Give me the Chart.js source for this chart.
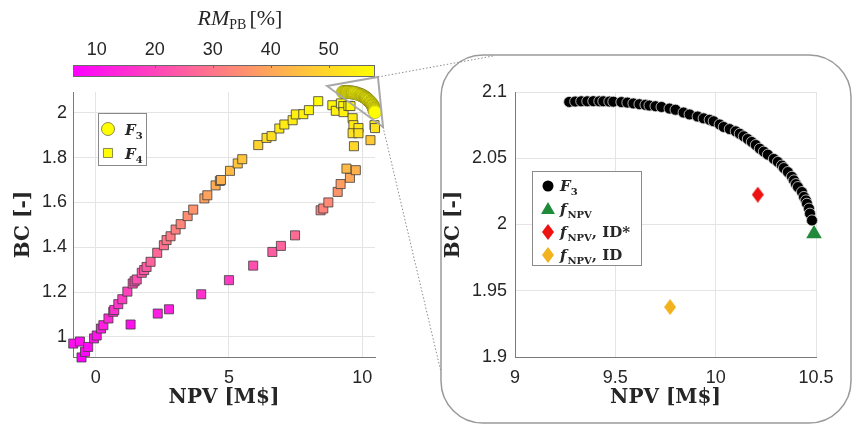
<!DOCTYPE html>
<html lang="pt-BR">
<head>
<meta charset="utf-8">
<title>BC x NPV - fronteiras F3 e F4</title>
<script src="https://cdn.jsdelivr.net/npm/chart.js@4.4.1/dist/chart.umd.min.js"></script>
<style>
  html, body { margin: 0; padding: 0; background: #fff; }
  #palco { position: relative; width: 852px; height: 425px; overflow: hidden; }
  #graficoGeral { position: absolute; left: 0; top: 0; }
  #graficoZoom { position: absolute; left: 430px; top: 0; }
  #camadaEnfeites { position: absolute; left: 0; top: 0; pointer-events: none; }
</style>
</head>
<body>
<div id="palco">
  <canvas id="graficoGeral" width="430" height="425"></canvas>
  <canvas id="graficoZoom" width="422" height="425"></canvas>
  <canvas id="camadaEnfeites" width="852" height="425"></canvas>
</div>
<script>
// =========================================================
// 1. DADOS
// =========================================================
// Frente F3 (circulos): NPV [M$] e BC [-]
const npvF3 = [9.27, 9.30, 9.33, 9.36, 9.39, 9.42, 9.44, 9.47, 9.49, 9.53, 9.56, 9.59, 9.62, 9.65, 9.67,
               9.70, 9.73, 9.77, 9.80, 9.84, 9.87, 9.91, 9.94, 9.97, 9.99, 10.02, 10.04, 10.07, 10.10, 10.12,
               10.14, 10.16, 10.18, 10.20, 10.22, 10.24, 10.26, 10.29, 10.31, 10.33, 10.34, 10.36, 10.38, 10.39,
               10.40, 10.41, 10.43, 10.44, 10.45, 10.455, 10.465, 10.47, 10.48];
const bcF3  = [2.0925, 2.0928, 2.0930, 2.0930, 2.0931, 2.0930, 2.0930, 2.0928, 2.0927, 2.0924, 2.0920, 2.0914, 2.0908, 2.0903, 2.0898,
               2.0893, 2.0887, 2.0875, 2.0866, 2.0845, 2.0831, 2.0815, 2.0801, 2.0790, 2.0779, 2.0755, 2.0736, 2.0720, 2.0703, 2.0685,
               2.0666, 2.0645, 2.0623, 2.0600, 2.0572, 2.0550, 2.0527, 2.0495, 2.0472, 2.0445, 2.0426, 2.0396, 2.0360, 2.0333,
               2.0305, 2.0283, 2.0245, 2.0208, 2.0182, 2.0157, 2.0120, 2.0082, 2.0031];
const rmF3 = 57.5; // todos amarelos

// Conjunto F4 (quadrados): NPV, BC e RM_PB [%] (cor)
const npvF4 = [-0.84, -0.59, -0.53, -0.40, -0.28, -0.06, 0.04, 0.20, 0.29, 0.48, 0.66, 0.70, 0.85, 1.00, 1.19,
               1.39, 1.46, 1.54, 1.73, 1.82, 1.91, 2.06, 2.31, 2.56, 2.66, 2.81, 3.00, 3.19, 3.45, 3.66,
               4.08, 4.19, 4.50, 4.66, 4.70, 5.04, 5.33, 5.50, 6.10, 6.41, 6.60, 6.89, 7.08, 7.39, 7.51,
               7.79, 8.00, 8.35, 8.88, 9.01, 9.20, 9.29, 9.30, 9.48, 9.56, 9.64, 9.67, 9.64, 9.86, 9.86,
               10.46, 10.48, 10.31, 9.69,
               1.31, 2.33, 2.75, 3.96, 5.00, 5.91, 6.63, 6.95, 7.48, 8.44, 8.54, 8.73, 9.08, 9.19, 9.54, 9.41, 9.76];
const bcF4  = [0.970, 0.979, 0.908, 0.933, 0.955, 0.993, 1.006, 1.037, 1.052, 1.082, 1.112, 1.120, 1.146, 1.168, 1.202,
               1.238, 1.248, 1.256, 1.286, 1.298, 1.312, 1.335, 1.375, 1.409, 1.432, 1.449, 1.479, 1.503, 1.539, 1.568,
               1.618, 1.632, 1.676, 1.696, 1.700, 1.741, 1.774, 1.793, 1.856, 1.888, 1.896, 1.930, 1.948, 1.967, 1.993,
               1.994, 2.012, 2.052, 2.034, 2.009, 2.042, 2.030, 2.003, 2.031, 2.030, 1.976, 1.945, 1.909, 1.932, 1.909,
               1.945, 1.932, 1.878, 1.851,
               1.055, 1.104, 1.123, 1.190, 1.253, 1.318, 1.379, 1.406, 1.453, 1.565, 1.573, 1.600, 1.647, 1.682, 1.710, 1.751, 1.744];
const rmF4  = [9, 9, 6, 7, 8, 10, 10, 12, 12, 14, 15, 16, 17, 18, 19,
               21, 22, 22, 23, 24, 24, 26, 27, 29, 30, 31, 32, 33, 35, 36,
               39, 39, 41, 42, 42, 44, 46, 46, 49, 51, 51, 53, 54, 54, 55,
               55, 56, 57, 56, 55, 57, 56, 55, 56, 56, 54, 53, 52, 53, 52,
               53, 52, 47, 50,
               9, 12, 12, 16, 18, 22, 25, 26, 28, 32, 33, 34, 36, 38, 40, 44, 42];

// Solucoes destacadas no zoom
const npvOtimo = [10.49], bcOtimo = [1.993];     // f_NPV
const npvIdEst = [10.21], bcIdEst = [2.0225];    // f_NPV, ID*
const npvId    = [9.773], bcId    = [1.9377];    // f_NPV, ID

// Eixos e escala de cores
const limXGeral = [-0.85, 10.48], limYGeral = [0.91, 2.093];
const ticksXGeral = [0, 5, 10], ticksYGeral = [1, 1.2, 1.4, 1.6, 1.8, 2];
const limXZoom = [9, 10.5], limYZoom = [1.9, 2.1];
const ticksXZoom = [9, 9.5, 10, 10.5], ticksYZoom = [1.9, 1.95, 2, 2.05, 2.1];
const limCor = [5.9, 58], ticksCor = [10, 20, 30, 40, 50];

// Triangulo que marca a regiao ampliada (em coordenadas do grafico da esquerda)
const trianguloX = [8.68, 10.59, 10.78], trianguloY = [2.12, 2.16, 1.937];


// =========================================================
// 2. AJUDANTES
// =========================================================
const fonteTicks = { family: '"Liberation Sans", Arial, sans-serif', size: 18 };
const fonteTitulo = { family: '"DejaVu Serif", serif', size: 20, weight: 'bold' };
const corTexto = '#262626';
const corGrade = '#e4e4e4';
const corEixo = '#7a7a7a';

// Mapa "spring" do MATLAB: magenta -> amarelo
function corPorRM(rm) {
    let t = (rm - limCor[0]) / (limCor[1] - limCor[0]);
    t = Math.max(0, Math.min(1, t));
    return `rgb(255, ${Math.round(255 * t)}, ${Math.round(255 * (1 - t))})`;
}

function pontos(xs, ys) {
    return xs.map((x, i) => ({ x: x, y: ys[i] }));
}

function formatar(v) {
    return String(Math.round(v * 100) / 100);
}

// Losango alto (marcador 'd' do MATLAB) como imagem para o pointStyle
function criarLosango(cor, largura, altura) {
    const c = document.createElement('canvas');
    c.width = largura; c.height = altura;
    const ctx = c.getContext('2d');
    ctx.fillStyle = cor;
    ctx.beginPath();
    ctx.moveTo(largura / 2, 0);
    ctx.lineTo(largura, altura / 2);
    ctx.lineTo(largura / 2, altura);
    ctx.lineTo(0, altura / 2);
    ctx.closePath();
    ctx.fill();
    return c;
}
const losangoVermelho = criarLosango('#ee1111', 12, 16);
const losangoLaranja = criarLosango('#f2b21e', 12, 16);

// Escreve texto com partes (subscrito etc.)
function escreverPartes(ctx, partes, x, y) {
    ctx.textBaseline = 'alphabetic';
    ctx.textAlign = 'left';
    partes.forEach(p => {
        ctx.font = p.f;
        ctx.fillStyle = corTexto;
        ctx.fillText(p.t, x, y + (p.dy || 0));
        x += ctx.measureText(p.t).width + (p.gap || 0);
    });
    return x;
}

function larguraPartes(ctx, partes) {
    let w = 0;
    partes.forEach(p => { ctx.font = p.f; w += ctx.measureText(p.t).width + (p.gap || 0); });
    return w;
}

function eixoLinear(lim, ticks, extra) {
    return Object.assign({
        type: 'linear',
        min: lim[0],
        max: lim[1],
        afterBuildTicks: s => { s.ticks = ticks.map(v => ({ value: v })); },
        grid: { color: corGrade, lineWidth: 1, drawTicks: false },
        border: { color: corEixo, width: 1 },
        ticks: { font: fonteTicks, color: corTexto, callback: v => formatar(v) }
    }, extra);
}

const serifBI = '"DejaVu Serif", serif';
const rotuloF3 = [{ t: 'F', f: `italic bold 15px ${serifBI}`, gap: 0 }, { t: '3', f: `bold 10px ${serifBI}`, dy: 4 }];
const rotuloF4 = [{ t: 'F', f: `italic bold 15px ${serifBI}`, gap: 0 }, { t: '4', f: `bold 10px ${serifBI}`, dy: 4 }];
const rotuloNPV = [{ t: 'f', f: `italic bold 15px ${serifBI}`, gap: 1 }, { t: 'NPV', f: `bold 10px ${serifBI}`, dy: 4 }];


// =========================================================
// 3. PLUGINS DE DESENHO (barra de cores, legendas, triangulo)
// =========================================================
const pluginBarraCores = {
    id: 'barraCores',
    afterDraw(chart) {
        const ctx = chart.ctx;
        const cb = chart.scales.cb;
        const x0 = cb.getPixelForValue(limCor[0]);
        const x1 = cb.getPixelForValue(limCor[1]);
        const y0 = 65, y1 = 77;
        const grad = ctx.createLinearGradient(x0, 0, x1, 0);
        grad.addColorStop(0, corPorRM(limCor[0]));
        grad.addColorStop(0.5, corPorRM((limCor[0] + limCor[1]) / 2));
        grad.addColorStop(1, corPorRM(limCor[1]));
        ctx.save();
        ctx.fillStyle = grad;
        ctx.fillRect(x0, y0, x1 - x0, y1 - y0);
        ctx.strokeStyle = '#6a6a6a';
        ctx.lineWidth = 1;
        ctx.strokeRect(x0 + 0.5, y0 + 0.5, x1 - x0 - 1, y1 - y0 - 1);
        ticksCor.forEach(v => {
            const px = Math.round(cb.getPixelForValue(v)) + 0.5;
            ctx.beginPath();
            ctx.moveTo(px, y0);
            ctx.lineTo(px, y0 + 3);
            ctx.stroke();
        });
        // titulo RM_PB [%]
        const partes = [
            { t: 'RM', f: 'italic 22px "Liberation Serif", serif' },
            { t: 'PB', f: '14px "Liberation Serif", serif', dy: 4, gap: 3 },
            { t: '[%]', f: '22px "Liberation Serif", serif' }
        ];
        const w = larguraPartes(ctx, partes);
        escreverPartes(ctx, partes, 240 - w / 2, 25);
        ctx.restore();
    }
};

const pluginLegendaGeral = {
    id: 'legendaGeral',
    afterDraw(chart) {
        const ctx = chart.ctx;
        const a = chart.chartArea;
        const bx = a.left + 25, by = a.top + 21, bw = 48, bh = 52;
        ctx.save();
        ctx.fillStyle = '#fff';
        ctx.fillRect(bx, by, bw, bh);
        ctx.strokeStyle = '#8a8a8a';
        ctx.lineWidth = 1;
        ctx.strokeRect(bx + 0.5, by + 0.5, bw, bh);
        ctx.fillStyle = corPorRM(rmF3);
        ctx.strokeStyle = '#5a5a3a';
        ctx.lineWidth = 0.7;
        Chart.helpers.drawPoint(ctx, { pointStyle: 'circle', radius: 6.5, borderWidth: 0.7 }, bx + 10, by + 16);
        Chart.helpers.drawPoint(ctx, { pointStyle: 'rect', radius: 6.4, borderWidth: 0.7 }, bx + 10, by + 40);
        escreverPartes(ctx, rotuloF3, bx + 27, by + 22);
        escreverPartes(ctx, rotuloF4, bx + 27, by + 46);
        ctx.restore();
    }
};

const pluginTriangulo = {
    id: 'trianguloZoom',
    afterDraw(chart) {
        const ctx = chart.ctx;
        const sx = chart.scales.x, sy = chart.scales.y;
        ctx.save();
        ctx.strokeStyle = '#a8a8a8';
        ctx.lineWidth = 2;
        ctx.beginPath();
        trianguloX.forEach((v, i) => {
            const px = sx.getPixelForValue(v), py = sy.getPixelForValue(trianguloY[i]);
            if (i === 0) ctx.moveTo(px, py); else ctx.lineTo(px, py);
        });
        ctx.closePath();
        ctx.stroke();
        ctx.restore();
    }
};

const pluginLegendaZoom = {
    id: 'legendaZoom',
    afterDraw(chart) {
        const ctx = chart.ctx;
        const a = chart.chartArea;
        const bx = a.left + 17, by = a.top + 79, bw = 109, bh = 94;
        ctx.save();
        ctx.fillStyle = '#fff';
        ctx.fillRect(bx, by, bw, bh);
        ctx.strokeStyle = '#8a8a8a';
        ctx.lineWidth = 1;
        ctx.strokeRect(bx + 0.5, by + 0.5, bw, bh);
        const mx = bx + 16;
        ctx.fillStyle = '#000';
        Chart.helpers.drawPoint(ctx, { pointStyle: 'circle', radius: 5.5, borderWidth: 0 }, mx, by + 15);
        ctx.fillStyle = '#1f8a3a';
        Chart.helpers.drawPoint(ctx, { pointStyle: 'triangle', radius: 8, borderWidth: 0 }, mx, by + 39);
        Chart.helpers.drawPoint(ctx, { pointStyle: losangoVermelho, radius: 6 }, mx, by + 61);
        Chart.helpers.drawPoint(ctx, { pointStyle: losangoLaranja, radius: 6 }, mx, by + 84);
        const tx = bx + 28;
        escreverPartes(ctx, rotuloF3, tx, by + 20);
        escreverPartes(ctx, rotuloNPV, tx, by + 43);
        const fimA = escreverPartes(ctx, rotuloNPV, tx, by + 66);
        escreverPartes(ctx, [{ t: ', ID*', f: `bold 15px ${serifBI}` }], fimA, by + 66);
        const fimB = escreverPartes(ctx, rotuloNPV, tx, by + 89);
        escreverPartes(ctx, [{ t: ', ID', f: `bold 15px ${serifBI}` }], fimB, by + 89);
        ctx.restore();
    }
};


// =========================================================
// 4. GRAFICO DA ESQUERDA (F3 + F4 coloridos por RM)
// =========================================================
const graficoGeral = new Chart(document.getElementById('graficoGeral'), {
    type: 'scatter',
    data: {
        datasets: [
            {
                label: 'F4',
                data: pontos(npvF4, bcF4),
                pointStyle: 'rect',
                pointRadius: 6.4,
                backgroundColor: rmF4.map(corPorRM),
                borderColor: '#3c3c3c',
                borderWidth: 0.8,
                clip: false
            },
            {
                label: 'F3',
                data: pontos(npvF3, bcF3),
                pointStyle: 'circle',
                pointRadius: 6.5,
                backgroundColor: corPorRM(rmF3),
                borderColor: 'rgba(80, 80, 30, 0.55)',
                borderWidth: 0.6,
                clip: false
            }
        ]
    },
    options: {
        responsive: false,
        animation: false,
        events: [],
        layout: { padding: { left: 0, right: 55, top: 0, bottom: 0 } },
        plugins: { legend: { display: false }, tooltip: { enabled: false } },
        scales: {
            x: eixoLinear(limXGeral, ticksXGeral, {
                position: 'bottom',
                afterFit: s => { s.height = 68; },
                ticks: { font: fonteTicks, color: corTexto, padding: 10, callback: v => formatar(v) },
                title: { display: true, text: 'NPV [M$]', font: fonteTitulo, color: corTexto, padding: { top: 0, bottom: 15 } }
            }),
            y: eixoLinear(limYGeral, ticksYGeral, {
                position: 'left',
                afterFit: s => { s.width = 73; },
                ticks: { font: fonteTicks, color: corTexto, padding: 6, callback: v => formatar(v) },
                title: { display: true, text: 'BC [-]', font: fonteTitulo, color: corTexto, padding: { top: 12, bottom: 0 } }
            }),
            cb: eixoLinear(limCor, ticksCor, {
                axis: 'x',
                position: 'top',
                afterFit: s => { s.height = 92; },
                grid: { display: false, drawTicks: false },
                border: { display: false },
                ticks: { font: fonteTicks, color: corTexto, padding: 31, callback: v => formatar(v) }
            })
        }
    },
    plugins: [pluginBarraCores, pluginLegendaGeral, pluginTriangulo]
});


// =========================================================
// 5. GRAFICO DA DIREITA (zoom na frente F3)
// =========================================================
const graficoZoom = new Chart(document.getElementById('graficoZoom'), {
    type: 'scatter',
    data: {
        datasets: [
            {
                label: 'F3',
                data: pontos(npvF3, bcF3),
                pointStyle: 'circle',
                pointRadius: 5.5,
                backgroundColor: '#000',
                borderColor: '#d8d8d8',
                borderWidth: 0.8,
                clip: false
            },
            {
                label: 'f_NPV',
                data: pontos(npvOtimo, bcOtimo),
                pointStyle: 'triangle',
                pointRadius: 9,
                backgroundColor: '#1f8a3a',
                borderWidth: 0,
                clip: false
            },
            {
                label: 'f_NPV, ID*',
                data: pontos(npvIdEst, bcIdEst),
                pointStyle: losangoVermelho,
                clip: false
            },
            {
                label: 'f_NPV, ID',
                data: pontos(npvId, bcId),
                pointStyle: losangoLaranja,
                clip: false
            }
        ]
    },
    options: {
        responsive: false,
        animation: false,
        events: [],
        layout: { padding: { left: 0, right: 36, top: 92, bottom: 0 } },
        plugins: { legend: { display: false }, tooltip: { enabled: false } },
        scales: {
            x: eixoLinear(limXZoom, ticksXZoom, {
                position: 'bottom',
                afterFit: s => { s.height = 68; },
                ticks: { font: fonteTicks, color: corTexto, padding: 10, callback: v => formatar(v) },
                title: { display: true, text: 'NPV [M$]', font: fonteTitulo, color: corTexto, padding: { top: 0, bottom: 15 } }
            }),
            y: eixoLinear(limYZoom, ticksYZoom, {
                position: 'left',
                afterFit: s => { s.width = 85; },
                ticks: { font: fonteTicks, color: corTexto, padding: 8, callback: v => formatar(v) },
                title: { display: true, text: 'BC [-]', font: fonteTitulo, color: corTexto, padding: { top: 12, bottom: 0 } }
            })
        }
    },
    plugins: [pluginLegendaZoom]
});


// =========================================================
// 6. MOLDURA ARREDONDADA E LINHAS PONTILHADAS DE LIGACAO
// =========================================================
(function desenharEnfeites() {
    const ctx = document.getElementById('camadaEnfeites').getContext('2d');
    const moldura = { x: 441, y: 55, w: 410, h: 368, r: 42 };

    ctx.strokeStyle = '#9a9a9a';
    ctx.lineWidth = 1.5;
    ctx.beginPath();
    ctx.roundRect(moldura.x, moldura.y, moldura.w, moldura.h, moldura.r);
    ctx.stroke();

    // vertices do triangulo no grafico da esquerda
    const sx = graficoGeral.scales.x, sy = graficoGeral.scales.y;
    const topo = { x: sx.getPixelForValue(trianguloX[1]), y: sy.getPixelForValue(trianguloY[1]) };
    const baixo = { x: sx.getPixelForValue(trianguloX[2]), y: sy.getPixelForValue(trianguloY[2]) };

    ctx.strokeStyle = '#8c8c8c';
    ctx.lineWidth = 1;
    ctx.setLineDash([1.5, 2]);
    ctx.beginPath();
    ctx.moveTo(topo.x, topo.y);
    ctx.lineTo(moldura.x + 52, moldura.y + 1);
    ctx.moveTo(baixo.x, baixo.y);
    ctx.lineTo(moldura.x, moldura.y + 317);
    ctx.stroke();
})();
</script>
</body>
</html>
